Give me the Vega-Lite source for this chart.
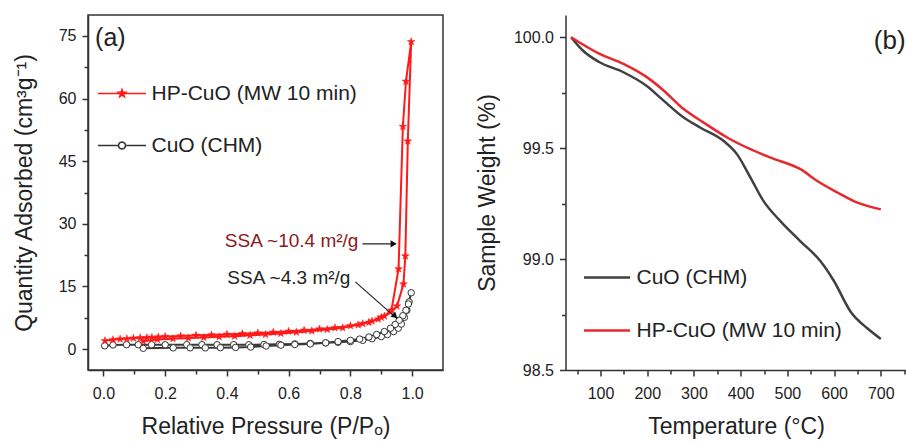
{
  "$schema": "https://vega.github.io/schema/vega-lite/v6.json",
  "padding": {"left": 12, "top": 14, "right": 0, "bottom": 0},
  "background": "white",
  "config": {
    "font": "Liberation Sans",
    "view": {"stroke": null},
    "axis": {"labelFont": "Liberation Sans", "titleFont": "Liberation Sans", "labelFontSize": 16, "titleFontSize": 23, "titleFontWeight": "normal", "labelColor": "#222", "titleColor": "#222", "tickColor": "#333", "domainColor": "#333", "domainWidth": 1.5, "tickWidth": 1.5, "grid": false, "labelOverlap": false, "labelFlush": false, "labelPadding": 6, "titlePadding": 14},
    "legend": {"labelFont": "Liberation Sans", "labelColor": "#222", "labelLimit": 400},
    "text": {"font": "Liberation Sans"}
  },
  "datasets": {
    "iso": [
      {"s":"CuO (CHM)","i":0,"x":0.004,"y":0.8},{"s":"CuO (CHM)","i":1,"x":0.031,"y":1.0},{"s":"CuO (CHM)","i":2,"x":0.075,"y":1.05},{"s":"CuO (CHM)","i":3,"x":0.113,"y":1.05},{"s":"CuO (CHM)","i":4,"x":0.156,"y":1.05},{"s":"CuO (CHM)","i":5,"x":0.2,"y":1.05},{"s":"CuO (CHM)","i":6,"x":0.27,"y":1.05},{"s":"CuO (CHM)","i":7,"x":0.319,"y":1.05},{"s":"CuO (CHM)","i":8,"x":0.368,"y":1.05},{"s":"CuO (CHM)","i":9,"x":0.422,"y":1.05},{"s":"CuO (CHM)","i":10,"x":0.471,"y":1.05},{"s":"CuO (CHM)","i":11,"x":0.52,"y":1.1},{"s":"CuO (CHM)","i":12,"x":0.57,"y":1.15},{"s":"CuO (CHM)","i":13,"x":0.62,"y":1.25},{"s":"CuO (CHM)","i":14,"x":0.67,"y":1.35},{"s":"CuO (CHM)","i":15,"x":0.72,"y":1.5},{"s":"CuO (CHM)","i":16,"x":0.76,"y":1.65},{"s":"CuO (CHM)","i":17,"x":0.8,"y":1.8},{"s":"CuO (CHM)","i":18,"x":0.84,"y":2.1},{"s":"CuO (CHM)","i":19,"x":0.87,"y":2.5},{"s":"CuO (CHM)","i":20,"x":0.9,"y":3.0},{"s":"CuO (CHM)","i":21,"x":0.92,"y":3.5},{"s":"CuO (CHM)","i":22,"x":0.94,"y":4.2},{"s":"CuO (CHM)","i":23,"x":0.955,"y":5.0},{"s":"CuO (CHM)","i":24,"x":0.965,"y":6.0},{"s":"CuO (CHM)","i":25,"x":0.975,"y":7.6},{"s":"CuO (CHM)","i":26,"x":0.983,"y":9.3},{"s":"CuO (CHM)","i":27,"x":0.99,"y":11.3},{"s":"CuO (CHM)","i":28,"x":0.997,"y":13.5},
      {"s":"CuO (CHM)","i":29,"x":0.988,"y":10.8},{"s":"CuO (CHM)","i":30,"x":0.98,"y":9.3},{"s":"CuO (CHM)","i":31,"x":0.97,"y":8.0},{"s":"CuO (CHM)","i":32,"x":0.958,"y":6.9},{"s":"CuO (CHM)","i":33,"x":0.945,"y":5.9},{"s":"CuO (CHM)","i":34,"x":0.93,"y":5.0},{"s":"CuO (CHM)","i":35,"x":0.91,"y":4.2},{"s":"CuO (CHM)","i":36,"x":0.885,"y":3.5},{"s":"CuO (CHM)","i":37,"x":0.86,"y":2.9},{"s":"CuO (CHM)","i":38,"x":0.83,"y":2.4},{"s":"CuO (CHM)","i":39,"x":0.8,"y":2.1},{"s":"CuO (CHM)","i":40,"x":0.76,"y":1.8},{"s":"CuO (CHM)","i":41,"x":0.72,"y":1.5},{"s":"CuO (CHM)","i":42,"x":0.67,"y":1.25},{"s":"CuO (CHM)","i":43,"x":0.62,"y":1.1},{"s":"CuO (CHM)","i":44,"x":0.575,"y":0.95},{"s":"CuO (CHM)","i":45,"x":0.527,"y":0.75},{"s":"CuO (CHM)","i":46,"x":0.477,"y":0.5},{"s":"CuO (CHM)","i":47,"x":0.428,"y":0.4},{"s":"CuO (CHM)","i":48,"x":0.379,"y":0.35},{"s":"CuO (CHM)","i":49,"x":0.33,"y":0.3},{"s":"CuO (CHM)","i":50,"x":0.281,"y":0.3},{"s":"CuO (CHM)","i":51,"x":0.226,"y":0.3},{"s":"CuO (CHM)","i":52,"x":0.129,"y":0.2},
      {"s":"HP-CuO (MW 10 min)","i":0,"x":0.005,"y":2.0},{"s":"HP-CuO (MW 10 min)","i":1,"x":0.031,"y":2.25},{"s":"HP-CuO (MW 10 min)","i":2,"x":0.054,"y":2.4},{"s":"HP-CuO (MW 10 min)","i":3,"x":0.076,"y":2.5},{"s":"HP-CuO (MW 10 min)","i":4,"x":0.097,"y":2.6},{"s":"HP-CuO (MW 10 min)","i":5,"x":0.119,"y":2.7},{"s":"HP-CuO (MW 10 min)","i":6,"x":0.141,"y":2.75},{"s":"HP-CuO (MW 10 min)","i":7,"x":0.157,"y":2.8},{"s":"HP-CuO (MW 10 min)","i":8,"x":0.178,"y":2.9},{"s":"HP-CuO (MW 10 min)","i":9,"x":0.2,"y":3.0},{"s":"HP-CuO (MW 10 min)","i":10,"x":0.25,"y":3.15},{"s":"HP-CuO (MW 10 min)","i":11,"x":0.3,"y":3.3},{"s":"HP-CuO (MW 10 min)","i":12,"x":0.35,"y":3.4},{"s":"HP-CuO (MW 10 min)","i":13,"x":0.4,"y":3.55},{"s":"HP-CuO (MW 10 min)","i":14,"x":0.45,"y":3.7},{"s":"HP-CuO (MW 10 min)","i":15,"x":0.5,"y":3.85},{"s":"HP-CuO (MW 10 min)","i":16,"x":0.55,"y":4.05},{"s":"HP-CuO (MW 10 min)","i":17,"x":0.6,"y":4.25},{"s":"HP-CuO (MW 10 min)","i":18,"x":0.65,"y":4.5},{"s":"HP-CuO (MW 10 min)","i":19,"x":0.7,"y":4.8},{"s":"HP-CuO (MW 10 min)","i":20,"x":0.75,"y":5.1},{"s":"HP-CuO (MW 10 min)","i":21,"x":0.8,"y":5.6},{"s":"HP-CuO (MW 10 min)","i":22,"x":0.84,"y":6.1},{"s":"HP-CuO (MW 10 min)","i":23,"x":0.87,"y":6.7},{"s":"HP-CuO (MW 10 min)","i":24,"x":0.9,"y":7.6},{"s":"HP-CuO (MW 10 min)","i":25,"x":0.93,"y":8.9},{"s":"HP-CuO (MW 10 min)","i":26,"x":0.951,"y":10.3},{"s":"HP-CuO (MW 10 min)","i":27,"x":0.972,"y":15.6},{"s":"HP-CuO (MW 10 min)","i":28,"x":0.978,"y":22.3},{"s":"HP-CuO (MW 10 min)","i":29,"x":0.986,"y":49.8},{"s":"HP-CuO (MW 10 min)","i":30,"x":0.997,"y":73.6},
      {"s":"HP-CuO (MW 10 min)","i":31,"x":0.98,"y":64.1},{"s":"HP-CuO (MW 10 min)","i":32,"x":0.97,"y":53.3},{"s":"HP-CuO (MW 10 min)","i":33,"x":0.956,"y":19.2},{"s":"HP-CuO (MW 10 min)","i":34,"x":0.933,"y":9.3},{"s":"HP-CuO (MW 10 min)","i":35,"x":0.91,"y":7.9},{"s":"HP-CuO (MW 10 min)","i":36,"x":0.89,"y":7.2},{"s":"HP-CuO (MW 10 min)","i":37,"x":0.86,"y":6.4},{"s":"HP-CuO (MW 10 min)","i":38,"x":0.825,"y":5.8},{"s":"HP-CuO (MW 10 min)","i":39,"x":0.775,"y":5.1},{"s":"HP-CuO (MW 10 min)","i":40,"x":0.725,"y":4.7},{"s":"HP-CuO (MW 10 min)","i":41,"x":0.675,"y":4.35},{"s":"HP-CuO (MW 10 min)","i":42,"x":0.625,"y":4.05},{"s":"HP-CuO (MW 10 min)","i":43,"x":0.575,"y":3.75},{"s":"HP-CuO (MW 10 min)","i":44,"x":0.525,"y":3.5},{"s":"HP-CuO (MW 10 min)","i":45,"x":0.475,"y":3.3},{"s":"HP-CuO (MW 10 min)","i":46,"x":0.425,"y":3.1},{"s":"HP-CuO (MW 10 min)","i":47,"x":0.375,"y":2.95},{"s":"HP-CuO (MW 10 min)","i":48,"x":0.325,"y":2.8},{"s":"HP-CuO (MW 10 min)","i":49,"x":0.275,"y":2.65},{"s":"HP-CuO (MW 10 min)","i":50,"x":0.225,"y":2.5},{"s":"HP-CuO (MW 10 min)","i":51,"x":0.175,"y":2.3},{"s":"HP-CuO (MW 10 min)","i":52,"x":0.129,"y":1.9}
    ],
    "legA": [{"s": "HP-CuO (MW 10 min)"}, {"s": "CuO (CHM)"}],
    "tga": [
      {"s":"CuO (CHM)","t":37,"w":100.0},{"s":"CuO (CHM)","t":62,"w":99.94},{"s":"CuO (CHM)","t":98,"w":99.887},{"s":"CuO (CHM)","t":149,"w":99.842},{"s":"CuO (CHM)","t":199,"w":99.78},{"s":"CuO (CHM)","t":235,"w":99.714},{"s":"CuO (CHM)","t":278,"w":99.638},{"s":"CuO (CHM)","t":313,"w":99.593},{"s":"CuO (CHM)","t":363,"w":99.533},{"s":"CuO (CHM)","t":392,"w":99.473},{"s":"CuO (CHM)","t":421,"w":99.367},{"s":"CuO (CHM)","t":449,"w":99.261},{"s":"CuO (CHM)","t":485,"w":99.171},{"s":"CuO (CHM)","t":528,"w":99.08},{"s":"CuO (CHM)","t":571,"w":98.99},{"s":"CuO (CHM)","t":600,"w":98.9},{"s":"CuO (CHM)","t":635,"w":98.764},{"s":"CuO (CHM)","t":671,"w":98.688},{"s":"CuO (CHM)","t":700,"w":98.64},
      {"s":"HP-CuO (MW 10 min)","t":37,"w":100.0},{"s":"HP-CuO (MW 10 min)","t":98,"w":99.925},{"s":"HP-CuO (MW 10 min)","t":149,"w":99.88},{"s":"HP-CuO (MW 10 min)","t":199,"w":99.82},{"s":"HP-CuO (MW 10 min)","t":235,"w":99.76},{"s":"HP-CuO (MW 10 min)","t":278,"w":99.676},{"s":"HP-CuO (MW 10 min)","t":320,"w":99.616},{"s":"HP-CuO (MW 10 min)","t":371,"w":99.548},{"s":"HP-CuO (MW 10 min)","t":421,"w":99.495},{"s":"HP-CuO (MW 10 min)","t":464,"w":99.457},{"s":"HP-CuO (MW 10 min)","t":528,"w":99.405},{"s":"HP-CuO (MW 10 min)","t":564,"w":99.352},{"s":"HP-CuO (MW 10 min)","t":607,"w":99.3},{"s":"HP-CuO (MW 10 min)","t":650,"w":99.254},{"s":"HP-CuO (MW 10 min)","t":700,"w":99.224}
    ]
  },
  "bounds": "flush",
  "spacing": 122.5,
  "resolve": {"scale": {"color": "independent", "fill": "independent", "stroke": "independent", "shape": "independent", "x": "independent", "y": "independent"}},
  "hconcat": [
    {
      "width": 355,
      "height": 355,
      "view": {"stroke": "#333", "strokeWidth": 1.5},
      "encoding": {
        "x": {"field": "x", "type": "quantitative", "scale": {"domain": [-0.05, 1.1], "nice": false, "zero": false},
          "axis": {"title": "Relative Pressure (P/Pₒ)", "values": [0, 0.1, 0.2, 0.3, 0.4, 0.5, 0.6, 0.7, 0.8, 0.9, 1.0],
            "labelExpr": "round(datum.value*10) % 2 === 0 ? format(datum.value, '.1f') : ''",
            "tickSize": {"condition": {"test": "round(datum.value*10) % 2 === 0", "value": 6}, "value": 4}, "labelPadding": 9, "titlePadding": 14}},
        "y": {"field": "y", "type": "quantitative", "scale": {"domain": [-5, 80], "nice": false, "zero": false},
          "axis": {"title": "Quantity Adsorbed (cm³g⁻¹)", "titlePadding": 21.5, "values": [0, 7.5, 15, 22.5, 30, 37.5, 45, 52.5, 60, 67.5, 75],
            "labelExpr": "datum.value % 15 === 0 ? format(datum.value, 'd') : ''",
            "tickSize": {"condition": {"test": "datum.value % 15 === 0", "value": 6}, "value": 4}}}
      },
      "layer": [
        {"data": {"name": "iso"}, "transform": [{"filter": "datum.s === 'CuO (CHM)'"}], "mark": {"type": "line", "strokeWidth": 2, "color": "#3a3a3a"}, "encoding": {"order": {"field": "i", "type": "quantitative"}}},
        {"data": {"name": "iso"}, "transform": [{"filter": "datum.s === 'CuO (CHM)'"}], "mark": {"type": "point", "shape": "circle", "size": 42, "filled": true, "fill": "white", "stroke": "#333", "strokeWidth": 1, "opacity": 1}},
        {"data": {"name": "iso"}, "transform": [{"filter": "datum.s === 'HP-CuO (MW 10 min)'"}], "mark": {"type": "line", "strokeWidth": 2, "color": "#ff1a1a"}, "encoding": {"order": {"field": "i", "type": "quantitative"}}},
        {"data": {"name": "iso"}, "transform": [{"filter": "datum.s === 'HP-CuO (MW 10 min)'"}], "mark": {"type": "point", "shape": "M0,-1L0.235,-0.324L0.951,-0.309L0.38,0.124L0.588,0.809L0,0.4L-0.588,0.809L-0.38,0.124L-0.951,-0.309L-0.235,-0.324Z", "size": 64, "filled": true, "fill": "#ff1a1a", "stroke": "#ff1a1a", "strokeWidth": 0.5, "opacity": 1}},
        {"data": {"values": [{"x": 0.946, "y": 25.2, "x2": 0.839, "y2": 25.2}]}, "mark": {"type": "rule", "color": "#222", "strokeWidth": 1.2}, "encoding": {"x2": {"field": "x2"}, "y2": {"field": "y2"}}},
        {"data": {"values": [{"x": 0.952, "y": 7.25, "x2": 0.816, "y2": 16.1}]}, "mark": {"type": "rule", "color": "#222", "strokeWidth": 1.2}, "encoding": {"x2": {"field": "x2"}, "y2": {"field": "y2"}}},
        {"data": {"values": [{"x": 0.94, "y": 25.2}]}, "mark": {"type": "point", "shape": "triangle-right", "size": 50, "filled": true, "color": "#111", "opacity": 1}},
        {"data": {"values": [{"x": 0.945, "y": 7.9}]}, "mark": {"type": "point", "shape": "triangle-right", "size": 50, "filled": true, "color": "#111", "opacity": 1, "angle": 41}},
        {"data": {"values": [{"x": 0.826, "y": 25.9, "label": "SSA ~10.4 m²/g"}]}, "mark": {"type": "text", "align": "right", "baseline": "middle", "fontSize": 19, "color": "#8b1a1a"}, "encoding": {"text": {"field": "label"}}},
        {"data": {"values": [{"x": 0.8, "y": 17.1, "label": "SSA ~4.3 m²/g"}]}, "mark": {"type": "text", "align": "right", "baseline": "middle", "fontSize": 19, "color": "#222"}, "encoding": {"text": {"field": "label"}}},
        {"data": {"values": [{"x": -0.027, "y": 74.6, "label": "(a)"}]}, "mark": {"type": "text", "align": "left", "baseline": "middle", "fontSize": 25, "color": "#222"}, "encoding": {"text": {"field": "label"}}},
        {"data": {"name": "legA"}, "mark": {"type": "point", "filled": true, "opacity": 0, "strokeWidth": 1.5},
          "encoding": {
            "x": {"datum": 0.5}, "y": {"datum": 40},
            "shape": {"field": "s", "type": "nominal", "scale": {"domain": ["HP-CuO (MW 10 min)", "CuO (CHM)"], "range": ["M-3,0H3M0,-0.5L0.1175,-0.162L0.4755,-0.1545L0.19,0.062L0.294,0.4045L0,0.2L-0.294,0.4045L-0.19,0.062L-0.4755,-0.1545L-0.1175,-0.162Z", "M-3,0H-0.44M0.44,0H3M0.44,0L0.381,0.22L0.22,0.381L0,0.44L-0.22,0.381L-0.381,0.22L-0.44,0L-0.381,-0.22L-0.22,-0.381L0,-0.44L0.22,-0.381L0.381,-0.22Z"]},
              "legend": {"title": null, "orient": "none", "legendX": 23.5, "legendY": 68, "padding": 0, "labelFontSize": 21, "symbolSize": 256, "symbolStrokeWidth": 1.5, "symbolOpacity": 1, "labelOffset": 19, "rowPadding": 30}},
            "fill": {"field": "s", "type": "nominal", "scale": {"domain": ["HP-CuO (MW 10 min)", "CuO (CHM)"], "range": ["#ff1a1a", "#ffffff"]},
              "legend": {"title": null, "orient": "none", "legendX": 23.5, "legendY": 68, "padding": 0, "labelFontSize": 21, "symbolSize": 256, "symbolStrokeWidth": 1.5, "symbolOpacity": 1, "labelOffset": 19, "rowPadding": 30}},
            "stroke": {"field": "s", "type": "nominal", "scale": {"domain": ["HP-CuO (MW 10 min)", "CuO (CHM)"], "range": ["#ff1a1a", "#333333"]},
              "legend": {"title": null, "orient": "none", "legendX": 23.5, "legendY": 68, "padding": 0, "labelFontSize": 21, "symbolSize": 256, "symbolStrokeWidth": 1.5, "symbolOpacity": 1, "labelOffset": 19, "rowPadding": 30}}
          }}
      ]
    },
    {
      "width": 341,
      "height": 355,
      "encoding": {
        "x": {"field": "t", "type": "quantitative", "scale": {"domain": [25, 755], "nice": false, "zero": false},
          "axis": {"title": "Temperature (°C)", "values": [50, 100, 150, 200, 250, 300, 350, 400, 450, 500, 550, 600, 650, 700, 750],
            "labelExpr": "datum.value % 100 === 0 ? format(datum.value, 'd') : ''",
            "tickSize": {"condition": {"test": "datum.value % 100 === 0", "value": 6}, "value": 4}, "labelPadding": 9, "titlePadding": 14}},
        "y": {"field": "w", "type": "quantitative", "scale": {"domain": [98.5, 100.1], "nice": false, "zero": false},
          "axis": {"title": "Sample Weight (%)", "values": [98.5, 98.75, 99, 99.25, 99.5, 99.75, 100],
            "labelExpr": "abs(datum.value*2 - round(datum.value*2)) < 0.001 ? format(datum.value, '.1f') : ''",
            "tickSize": {"condition": {"test": "abs(datum.value*2 - round(datum.value*2)) < 0.001", "value": 6}, "value": 4}}}
      },
      "layer": [
        {"data": {"name": "tga"}, "mark": {"type": "line", "strokeWidth": 2.5, "interpolate": "monotone"},
          "encoding": {"color": {"field": "s", "type": "nominal", "scale": {"domain": ["CuO (CHM)", "HP-CuO (MW 10 min)"], "range": ["#404040", "#e8282c"]},
            "legend": {"title": null, "orient": "none", "legendX": 17, "legendY": 238, "padding": 0, "labelFontSize": 21, "symbolType": "stroke", "symbolSize": 2116, "symbolStrokeWidth": 2.5, "labelOffset": 5, "rowPadding": 18}}}},
        {"data": {"values": [{"w": 100.1}]}, "mark": {"type": "rule", "color": "#333", "strokeWidth": 1.5}, "encoding": {}},
        {"data": {"values": [{"t": 685, "w": 99.985, "label": "(b)"}]}, "mark": {"type": "text", "align": "left", "baseline": "middle", "fontSize": 26, "color": "#222", "clip": true}, "encoding": {"text": {"field": "label"}}}
      ]
    }
  ]
}
